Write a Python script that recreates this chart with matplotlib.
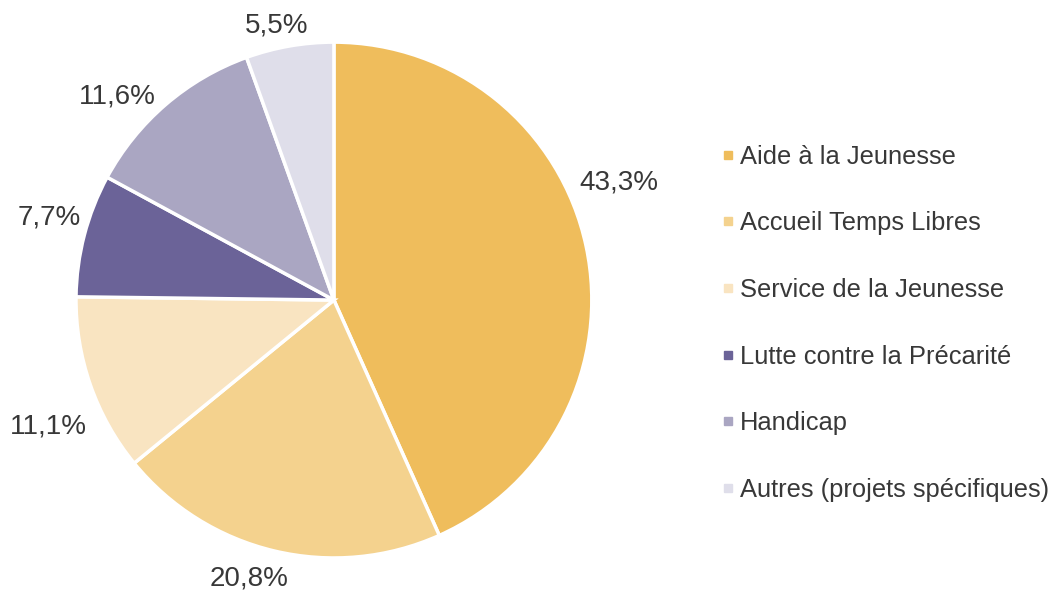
import matplotlib.pyplot as plt
from matplotlib.lines import Line2D
import numpy as np

plt.rcParams['font.family'] = ['Liberation Sans', 'DejaVu Sans']

categories = ['Aide à la Jeunesse', 'Accueil Temps Libres', 'Service de la Jeunesse',
              'Lutte contre la Précarité', 'Handicap', 'Autres (projets spécifiques)']
values = [43.3, 20.8, 11.1, 7.7, 11.6, 5.5]
colors = ['#EFBD5C', '#F4D28E', '#F9E4C1', '#6B6398', '#AAA6C2', '#DFDEEA']
text_color = '#383838'

# small nudges of the percent labels (data units) to mimic the original placement
label_nudge = [(0.01, 0.22), (-0.07, 0.01), (-0.05, -0.12),
               (-0.02, 0.04), (-0.11, -0.06), (-0.03, -0.04)]

fig = plt.figure(figsize=(10.57, 5.91), dpi=100)
ax = fig.add_axes([0.0719, 0.0558, 0.488, 0.873])

wedges, labels, pcts = ax.pie(
    values, colors=colors, startangle=90, counterclock=False,
    autopct=lambda p: ('%.1f%%' % p).replace('.', ','),
    pctdistance=1.12, radius=1,
    wedgeprops=dict(edgecolor='white', linewidth=2.5),
    textprops=dict(fontsize=20, color=text_color))
ax.set_xlim(-1, 1)
ax.set_ylim(-1, 1)
ax.set_aspect('equal')

for t, (dx, dy) in zip(pcts, label_nudge):
    x, y = t.get_position()
    t.set_position((x + dx, y + dy))

handles = [Line2D([0], [0], marker='s', linestyle='none', markersize=5.3,
                  markerfacecolor=c, markeredgecolor=c) for c in colors]
leg = fig.legend(handles, categories, loc='upper left', bbox_to_anchor=(0.6705, 0.777),
                 frameon=False, fontsize=18.4, labelspacing=1.67, handlelength=0.5,
                 handletextpad=0.22, borderpad=0)
for t in leg.get_texts():
    t.set_color(text_color)

fig.savefig('out.png', dpi=100)
